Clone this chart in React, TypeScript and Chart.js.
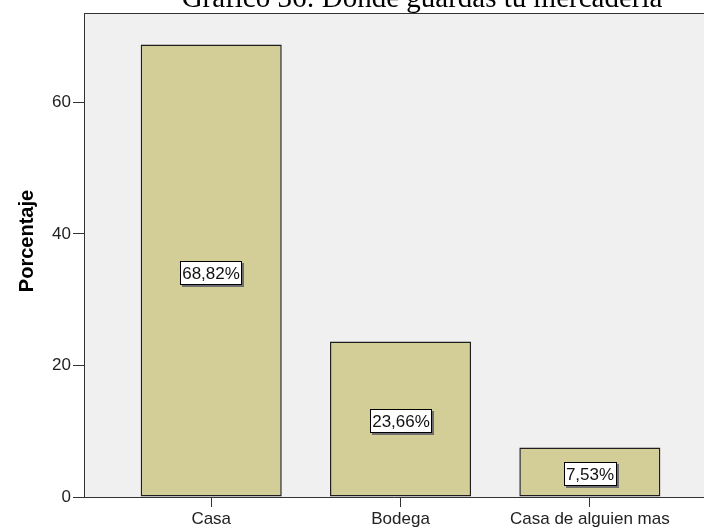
import React, { useEffect, useRef } from "react";
import { Chart, registerables } from "chart.js";

Chart.register(...registerables);

const categories = ["Casa", "Bodega", "Casa de alguien mas"];
const percentages = [68.82, 23.66, 7.53];
const percentLabels = ["68,82%", "23,66%", "7,53%"];
const yTicks = [0, 20, 40, 60];
const titleText = "Gráfico 36: Dónde guardas tu mercadería";
const yAxisTitle = "Porcentaje";

const SANS = "'Liberation Sans', Arial, sans-serif";
const SERIF = "'Liberation Serif', 'Times New Roman', serif";

const bgPlugin = {
  id: "plotBg",
  beforeDraw(chart: any) {
    const { ctx, chartArea: a } = chart;
    ctx.save();
    ctx.fillStyle = "#f0f0f0";
    ctx.fillRect(a.left, a.top, a.right - a.left, a.bottom - a.top);
    ctx.strokeStyle = "#333333";
    ctx.lineWidth = 1;
    ctx.beginPath();
    ctx.moveTo(a.left, a.top + 0.5);
    ctx.lineTo(a.right, a.top + 0.5);
    ctx.stroke();
    ctx.restore();
  },
  afterDraw(chart: any) {
    const { ctx, chartArea: a } = chart;
    ctx.save();
    ctx.fillStyle = "#000000";
    ctx.font = `29px ${SERIF}`;
    ctx.textAlign = "center";
    ctx.textBaseline = "alphabetic";
    ctx.fillText(titleText, 422, 7);
    ctx.restore();
    // y axis title
    ctx.save();
    ctx.translate(27, (a.top + a.bottom) / 2 - 14);
    ctx.rotate(-Math.PI / 2);
    ctx.font = `bold 20px ${SANS}`;
    ctx.fillStyle = "#000000";
    ctx.textAlign = "center";
    ctx.textBaseline = "middle";
    ctx.fillText(yAxisTitle, 0, 0);
    ctx.restore();
  },
};

const labelPlugin = {
  id: "barLabels",
  afterDatasetsDraw(chart: any) {
    const { ctx } = chart;
    const meta = chart.getDatasetMeta(0);
    const yScale = chart.scales.y;
    ctx.save();
    ctx.font = `17px ${SANS}`;
    ctx.textAlign = "center";
    ctx.textBaseline = "middle";
    meta.data.forEach((bar: any, i: number) => {
      const text = percentLabels[i];
      const cx = Math.round(bar.x);
      const cy = Math.round(yScale.getPixelForValue(percentages[i] / 2)) + 2;
      const w = Math.ceil(ctx.measureText(text).width) + 4;
      const h = 24;
      const x0 = Math.round(cx - w / 2);
      const y0 = Math.round(cy - h / 2);
      ctx.fillStyle = "#6e6e6e";
      ctx.fillRect(x0 + 2, y0 + 2, w, h);
      ctx.fillStyle = "#ffffff";
      ctx.fillRect(x0, y0, w, h);
      ctx.strokeStyle = "#000000";
      ctx.lineWidth = 1;
      ctx.strokeRect(x0 + 0.5, y0 + 0.5, w - 1, h - 1);
      ctx.fillStyle = "#111111";
      ctx.fillText(text, cx, cy + 1);
    });
    ctx.restore();
  },
};

export default function App() {
  const ref = useRef<HTMLCanvasElement | null>(null);
  useEffect(() => {
    if (!ref.current) return;
    const chart = new Chart(ref.current, {
      type: "bar",
      data: {
        datasets: [
          {
            data: percentages.map((v, i) => ({ x: i, y: v })),
            backgroundColor: "#d3ce97",
            borderColor: "#1e1e1e",
            borderWidth: 1.5,
            borderSkipped: false,
            barPercentage: 0.745,
            categoryPercentage: 1,
          },
        ],
      },
      options: {
        responsive: false,
        animation: false,
        devicePixelRatio: 1,
        layout: { padding: { top: 13, left: 0, right: 0, bottom: 0 } },
        plugins: {
          legend: { display: false },
          tooltip: { enabled: false },
          title: { display: false },
        },
        scales: {
          x: {
            type: "linear",
            offset: false,
            min: -0.672,
            max: 2.603,
            afterBuildTicks: (axis: any) => {
              axis.ticks = categories.map((_, i) => ({ value: i }));
            },
            afterFit: (axis: any) => {
              axis.height = 32;
            },
            ticks: {
              callback: (v: any) => categories[v as number] ?? "",
              font: { family: SANS, size: 17 },
              color: "#222222",
              padding: 2,
              maxRotation: 0,
              autoSkip: false,
            },
            grid: {
              offset: false,
              drawOnChartArea: false,
              drawTicks: true,
              tickLength: 10,
              color: "#333333",
              lineWidth: 1,
            },
            border: { display: true, color: "#333333", width: 1 },
          },
          y: {
            min: 0,
            max: 73.6,
            afterBuildTicks: (axis: any) => {
              axis.ticks = yTicks.map((v) => ({ value: v }));
            },
            afterFit: (axis: any) => {
              axis.width = 84;
            },
            ticks: {
              font: { family: SANS, size: 17 },
              color: "#222222",
              padding: 2,
            },
            grid: {
              drawOnChartArea: false,
              drawTicks: true,
              tickLength: 11,
              color: "#333333",
              lineWidth: 1,
            },
            border: { display: true, color: "#333333", width: 1 },
            title: { display: false },
          },
        },
      },
      plugins: [bgPlugin, labelPlugin],
    });
    return () => chart.destroy();
  }, []);
  return (
    <div style={{ position: "fixed", left: 0, top: 0, width: 704, height: 529, background: "#ffffff" }}>
      <canvas ref={ref} width={704} height={529} style={{ display: "block" }} />
    </div>
  );
}
